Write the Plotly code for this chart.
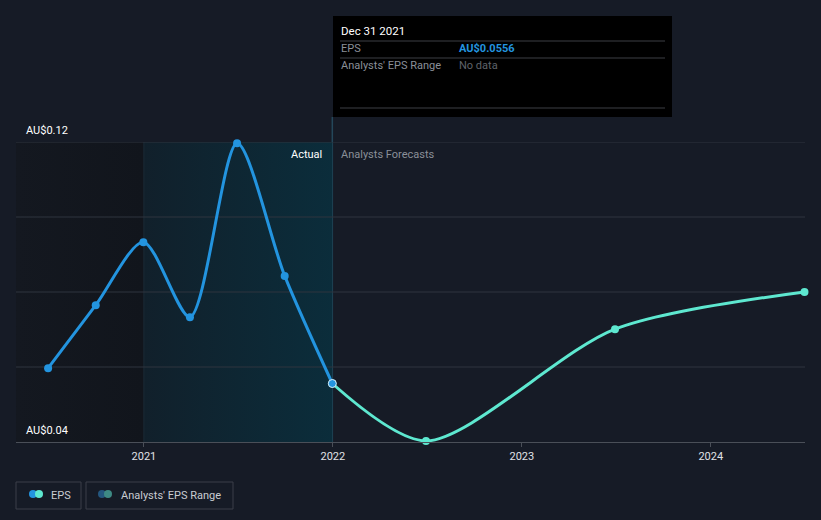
import plotly.graph_objects as go

actual_dates = ['2020-06-30', '2020-09-30', '2020-12-31', '2021-03-31', '2021-06-30', '2021-09-30', '2021-12-31']
actual_eps = [0.0597, 0.0765, 0.0933, 0.0733, 0.1197, 0.0843, 0.0556]
forecast_dates = ['2021-12-31', '2022-06-30', '2023-06-30', '2024-06-30']
forecast_eps = [0.0556, 0.0403, 0.0701, 0.0800]
year_ticks = ['2021-01-01', '2022-01-01', '2023-01-01', '2024-01-01']
year_labels = ['2021', '2022', '2023', '2024']
grid_values = [0.06, 0.08, 0.10, 0.12]
x_range = ['2020-04-29', '2024-07-01']
y_range = [0.04, 0.12]

BG = '#161b26'
BLUE = '#2394df'
TEAL = '#5ee8d0'
FONT = 'Roboto'

fig = go.Figure()

# shaded regions
fig.add_trace(go.Scatter(
    x=[x_range[0], year_ticks[0], year_ticks[0], x_range[0], x_range[0]],
    y=[y_range[0], y_range[0], y_range[1], y_range[1], y_range[0]],
    fill='toself', mode='none', hoverinfo='skip', showlegend=False,
    fillgradient=dict(type='horizontal', colorscale=[[0, '#141820'], [1, '#11151c']]),
))
fig.add_trace(go.Scatter(
    x=[year_ticks[0], actual_dates[-1], actual_dates[-1], year_ticks[0], year_ticks[0]],
    y=[y_range[0], y_range[0], y_range[1], y_range[1], y_range[0]],
    fill='toself', mode='none', hoverinfo='skip', showlegend=False,
    fillgradient=dict(type='horizontal', colorscale=[[0, '#11202b'], [1, '#0b2d3b']]),
))
# boundary line at start of shaded year
fig.add_trace(go.Scatter(
    x=[year_ticks[0], year_ticks[0]], y=y_range, mode='lines', hoverinfo='skip', showlegend=False,
    line=dict(color='#1b2a35', width=1),
))
# horizontal gridlines above the shading
for gv in grid_values:
    fig.add_trace(go.Scatter(
        x=x_range, y=[gv, gv], mode='lines', hoverinfo='skip', showlegend=False,
        line=dict(color='#2e343e', width=1), cliponaxis=False,
    ))

fig.add_trace(go.Scatter(
    x=forecast_dates, y=forecast_eps, mode='lines+markers',
    line=dict(color=TEAL, width=3, shape='spline', smoothing=0.8),
    marker=dict(color=TEAL, size=8), cliponaxis=False, showlegend=False,
))
fig.add_trace(go.Scatter(
    x=actual_dates, y=actual_eps, mode='lines+markers',
    line=dict(color=BLUE, width=3, shape='spline', smoothing=0.8),
    marker=dict(color=BLUE, size=8,
                line=dict(color=['rgba(0,0,0,0)'] * (len(actual_dates) - 1) + ['#d8ecf8'], width=1)),
    cliponaxis=False, showlegend=False,
))

def px_x(px):
    return (px - 16) / 789.0

def px_y(py):
    return (442 - py) / 300.0

shapes = []
# vertical marker line
shapes.append(dict(type='line', xref='x', yref='paper', x0=actual_dates[-1], x1=actual_dates[-1],
                   y0=0, y1=px_y(117), line=dict(color='#24475a', width=1.5), layer='below'))
# tooltip box
shapes.append(dict(type='rect', xref='paper', yref='paper', x0=px_x(333), x1=px_x(672),
                   y0=px_y(117), y1=px_y(16), fillcolor='#000000', line=dict(width=0)))
for yy in [41, 58, 108]:
    shapes.append(dict(type='line', xref='paper', yref='paper', x0=px_x(340), x1=px_x(665),
                       y0=px_y(yy), y1=px_y(yy), line=dict(color='#3c3f44', width=1)))
# legend boxes
for (a, b) in [(16, 81), (86, 233)]:
    shapes.append(dict(type='rect', xref='paper', yref='paper', x0=px_x(a), x1=px_x(b),
                       y0=px_y(509), y1=px_y(482), line=dict(color='#3a3f48', width=1),
                       fillcolor='rgba(0,0,0,0)'))

def circ(cx, cy, r, color):
    return dict(type='circle', xref='paper', yref='paper', x0=px_x(cx - r), x1=px_x(cx + r),
                y0=px_y(cy + r), y1=px_y(cy - r), fillcolor=color, line=dict(width=0))

shapes += [circ(33, 494, 4, BLUE), circ(39, 494, 4, TEAL),
           circ(102, 494, 4, '#24577f'), circ(108, 494, 4, '#3e8a84')]

annotations = [
    dict(text='AU$0.12', xref='paper', yref='paper', x=px_x(24), y=px_y(130), xanchor='left',
         yanchor='middle', showarrow=False, font=dict(color='#ffffff', size=11, family=FONT)),
    dict(text='AU$0.04', xref='paper', yref='paper', x=px_x(24), y=px_y(430), xanchor='left',
         yanchor='middle', showarrow=False, font=dict(color='#ffffff', size=11, family=FONT)),
    dict(text='Actual', xref='x', yref='paper', x=actual_dates[-1], xshift=-8, y=px_y(154),
         xanchor='right', yanchor='middle', showarrow=False, font=dict(color='#ffffff', size=11, family=FONT)),
    dict(text='Analysts Forecasts', xref='x', yref='paper', x=actual_dates[-1], xshift=7, y=px_y(154),
         xanchor='left', yanchor='middle', showarrow=False, font=dict(color='#8a8f98', size=11, family=FONT)),
    dict(text='Dec 31 2021', xref='paper', yref='paper', x=px_x(339), y=px_y(31), xanchor='left',
         yanchor='middle', showarrow=False, font=dict(color='#ffffff', size=11.5, family=FONT)),
    dict(text='EPS', xref='paper', yref='paper', x=px_x(339), y=px_y(49), xanchor='left',
         yanchor='middle', showarrow=False, font=dict(color='#8a8f98', size=11, family=FONT)),
    dict(text='<b>AU$0.0556</b>', xref='paper', yref='paper', x=px_x(457), y=px_y(49), xanchor='left',
         yanchor='middle', showarrow=False, font=dict(color=BLUE, size=11, family=FONT)),
    dict(text="Analysts' EPS Range", xref='paper', yref='paper', x=px_x(339), y=px_y(66), xanchor='left',
         yanchor='middle', showarrow=False, font=dict(color='#8a8f98', size=11, family=FONT)),
    dict(text='No data', xref='paper', yref='paper', x=px_x(457), y=px_y(66), xanchor='left',
         yanchor='middle', showarrow=False, font=dict(color='#5f636a', size=11, family=FONT)),
    dict(text='EPS', xref='paper', yref='paper', x=px_x(49), y=px_y(495), xanchor='left',
         yanchor='middle', showarrow=False, font=dict(color='#c8ccd2', size=11, family=FONT)),
    dict(text="Analysts' EPS Range", xref='paper', yref='paper', x=px_x(119), y=px_y(495), xanchor='left',
         yanchor='middle', showarrow=False, font=dict(color='#c8ccd2', size=11, family=FONT)),
]

fig.update_layout(
    width=821, height=520,
    margin=dict(l=16, r=16, t=142, b=78),
    paper_bgcolor=BG, plot_bgcolor=BG,
    font=dict(family=FONT, color='#d0d3d8', size=11),
    showlegend=False,
    shapes=shapes,
    annotations=annotations,
    xaxis=dict(type='date', range=x_range, tickvals=year_ticks, ticktext=year_labels,
               ticks='outside', ticklen=4, tickcolor='#4a4f58', showgrid=False,
               showline=True, linecolor='#4a4f58', linewidth=1, zeroline=False,
               tickfont=dict(color='#e0e2e6', size=11, family=FONT), fixedrange=True),
    yaxis=dict(range=y_range, showgrid=False, showticklabels=False,
               zeroline=False, showline=False, fixedrange=True),
)

fig.write_html('out.html')
